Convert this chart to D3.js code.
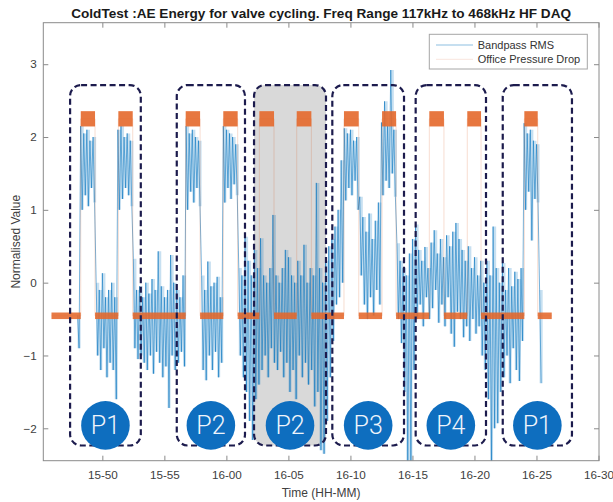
<!DOCTYPE html>
<html lang="en">
  <head>
    <meta charset="utf-8" />
    <title>ColdTest AE Energy</title>
    <script src="https://d3js.org/d3.v7.min.js"></script>
    <style>
      body { margin: 0; background: #fff; }
      svg { font-family: "Liberation Sans", Arial, sans-serif; }
    </style>
  </head>
  <body>
    <script type="text/javascript">
      // all times are minutes after 15:00
      const tickMinutes = [50, 55, 60, 65, 70, 75, 80, 85, 90];
      const tickLabels = ["15-50", "15-55", "16-00", "16-05", "16-10", "16-15", "16-20", "16-25", "16-30"];
      const yTicks = [-2, -1, 0, 1, 2, 3];

      const rmsStart = 48.0;
      const rmsBin = 0.25;
      const rmsHigh = [
        -0.45, 2.15, 2.05, 2.1, 1.95, 2.0, 0.0, -0.1, 0.13, -0.2,
        -0.1, 0.0, -0.2, 2.1, 2.15, 2.0, 2.05, 1.95, 0.33, -0.1,
        -0.05, -0.2, 0.0, -0.15, 0.05, -0.1, 0.43, -0.05, -0.2, -0.1,
        0.38, 0.0, -0.1, -0.2, 0.1, 2.15, 2.05, 2.1, 2.0, 1.95,
        0.1, -0.1, 0.29, -0.05, 0.0, 0.08, -0.2, 2.15, 2.1, 2.05,
        2.0, 1.9, 0.2, 0.1, 0.63, 0.3, 0.1, 0.45, 0.2, 0.61,
        0.1, 0.0, 0.2, 0.93, 0.1, 0.0, 0.2, 0.45, 0.35, 0.1,
        0.0, 0.3, 0.1, 0.52, 0.0, 0.2, 0.1, 1.37, 0.2, 0.0,
        0.3, 0.5, 0.6, 0.77, 1.0, 1.68, 2.12, 2.05, 2.1, 1.95,
        2.0, 1.18, 0.9, 0.7, 0.95, 0.6, 0.85, 1.1, 2.2, 2.49,
        2.15, 2.92, 2.1, 0.54, 0.3, 0.2, 0.1, 0.4, 0.6, 0.8,
        0.45, 0.3, 0.49, 0.2, 0.55, 0.72, 0.4, 0.6, 0.35, 0.65,
        0.5, 0.7, 0.82, 0.6, 0.45, 0.3, 0.5, 0.2, 0.35, 0.1,
        0.3, 0.0, 0.3, 0.1, 0.77, 0.2, 0.0, 0.27, -0.1, 0.2,
        -0.05, 0.15, 0.05, 0.2, 2.19, 2.05, 2.1, 1.95, 1.9, -0.1,
      ];
      const rmsLow = [
        -0.9, 1.0, 1.2, 1.05, 1.3, 1.1, -1.0, -1.2, -0.9, -1.3,
        -1.1, -1.2, -1.6, 1.0, 1.15, 1.3, 1.2, 1.05, -0.9, -1.05,
        -1.0, -1.1, -1.2, -1.0, -1.25, -0.95, -1.1, -1.3, -1.15, -1.72,
        -1.0, -1.2, -1.1, -0.95, -1.15, 1.0, 1.25, 1.1, 1.3, 1.05,
        -1.2, -1.34, -1.0, -1.2, -0.95, -1.3, -1.1, 1.1, 1.3, 1.15,
        1.35, 1.2, -1.0, -1.3, -1.5, -1.9, -2.16, -1.6, -1.4, -1.2,
        -1.0, -1.3, -0.9, -1.1, -1.2, -0.95, -1.3, -1.1, -1.5, -1.2,
        -1.6, -1.0, -1.3, -1.1, -1.4, -1.2, -1.7, -1.5, -2.3, -2.35,
        -1.9, -1.3, -0.8, -0.3, -0.2, 0.0, 1.13, 1.3, 1.2, 1.4,
        1.0, 0.1, -0.3, -0.5, -0.2, -0.45, -0.1, -0.3, 1.2, 1.4,
        1.3, 1.5, 1.18, -0.5, -0.83, -1.5, -2.5, -2.5, -1.2, -0.5,
        -0.3, -0.6, -0.2, -0.5, -0.35, -0.1, -0.55, -0.3, -0.6, -0.2,
        -0.7, -0.88, -0.4, -0.5, -0.75, -0.6, -0.8, -0.5, -0.7, -0.6,
        -1.0, -1.2, -1.6, -2.5, -2.0, -1.93, -1.5, -1.3, -1.0, -1.38,
        -0.9, -1.2, -1.35, -0.8, 1.0, 1.25, 0.58, 1.15, 1.1, -1.38,
      ];

      // Office Pressure Drop: square pulses between two levels
      const pressureFrom = 45.9;
      const pressureTo = 86.23;
      const pressureLow = -0.455;
      const pressureHigh = 2.25;
      const pulseOn = [48.26, 51.29, 56.72, 59.75, 62.66, 65.67, 69.48, 72.55, 76.36, 79.42, 84.02];
      const pulseOff = [49.41, 52.45, 57.88, 60.91, 63.84, 66.85, 70.67, 73.68, 77.54, 80.53, 85.1];

      // annotation boxes
      const boxLabels = ["P1", "P2", "P2", "P3", "P4", "P1"];
      const boxFrom = [47.4, 56.0, 62.23, 68.54, 75.26, 82.28];
      const boxTo = [53.1, 61.5, 68.03, 74.32, 80.93, 87.86];
      const boxShaded = [false, false, true, false, false, false];
      const boxTop = 2.714;
      const boxBottom = -2.236;
      const badgeLevel = -1.96;

      const w = 613;
      const h = 502;
      const mLeft = 43.3, mRight = 599, mTop = 22.7, mBottom = 460.7;

      const x = d3.scaleLinear().domain([45.24, 90.04]).range([mLeft, mRight]);
      const y = d3.scaleLinear().domain([-2.445, 3.57]).range([mBottom, mTop]);

      const svg = d3.select("body").append("svg").attr("width", w).attr("height", h);

      svg.append("clipPath").attr("id", "plotclip")
        .append("rect")
        .attr("x", mLeft).attr("y", mTop)
        .attr("width", mRight - mLeft).attr("height", mBottom - mTop);

      const plot = svg.append("g").attr("clip-path", "url(#plotclip)");

      // grey shading behind the data
      const shaded = boxLabels.map((d, i) => i).filter((i) => boxShaded[i]);
      plot.selectAll("rect.shade")
        .data(shaded)
        .enter()
        .append("rect")
        .attr("class", "shade")
        .attr("x", (i) => x(boxFrom[i]))
        .attr("y", y(boxTop))
        .attr("width", (i) => x(boxTo[i]) - x(boxFrom[i]))
        .attr("height", y(boxBottom) - y(boxTop))
        .attr("rx", 11)
        .attr("fill", "#d9d9d9");

      // faint envelope of each bin, then a zig-zag through high and low
      let rmsBins = [];
      let rmsPoints = [];
      rmsHigh.forEach((d, i) => {
        const t = rmsStart + i * rmsBin;
        rmsBins.push([t, rmsLow[i], d], [t + rmsBin, rmsLow[i], d]);
        rmsPoints.push([t, d], [t + rmsBin / 2, rmsLow[i]]);
      });

      const area = d3.area().x((d) => x(d[0])).y0((d) => y(d[1])).y1((d) => y(d[2]));
      const line = d3.line().x((d) => x(d[0])).y((d) => y(d[1]));

      plot.append("path")
        .datum(rmsBins)
        .attr("d", area)
        .attr("fill", "#0072bd")
        .attr("fill-opacity", 0.22);

      plot.append("path")
        .datum(rmsPoints)
        .attr("d", line)
        .attr("fill", "none")
        .attr("stroke", "#0072bd")
        .attr("stroke-width", 0.9)
        .attr("stroke-opacity", 0.6);

      // pressure step trace
      let steps = [[pressureFrom, pressureLow]];
      pulseOn.forEach((d, i) => {
        steps.push([d, pressureLow], [d, pressureHigh], [pulseOff[i], pressureHigh], [pulseOff[i], pressureLow]);
      });
      steps.push([pressureTo, pressureLow]);

      plot.append("path")
        .datum(steps)
        .attr("d", line)
        .attr("fill", "none")
        .attr("stroke", "#d95319")
        .attr("stroke-width", 1)
        .attr("stroke-opacity", 0.2);

      // noisy plateaus drawn as bands
      let lows = [[pressureFrom, pulseOn[0]]];
      pulseOn.forEach((d, i) => {
        lows.push([pulseOff[i], i + 1 < pulseOn.length ? pulseOn[i + 1] : pressureTo]);
      });

      plot.selectAll("rect.low")
        .data(lows)
        .enter()
        .append("rect")
        .attr("class", "low")
        .attr("x", (d) => x(d[0]))
        .attr("width", (d) => x(d[1]) - x(d[0]))
        .attr("y", y(pressureLow + 0.045))
        .attr("height", y(pressureLow - 0.045) - y(pressureLow + 0.045))
        .attr("fill", "#e4682b")
        .attr("fill-opacity", 0.88);

      plot.selectAll("rect.high")
        .data(pulseOn)
        .enter()
        .append("rect")
        .attr("class", "high")
        .attr("x", (d) => x(d))
        .attr("width", (d, i) => x(pulseOff[i]) - x(d))
        .attr("y", y(pressureHigh + 0.105))
        .attr("height", y(pressureHigh - 0.105) - y(pressureHigh + 0.105))
        .attr("fill", "#e4682b")
        .attr("fill-opacity", 0.9);

      // dashed boxes with badges
      const boxes = svg.selectAll("g.box")
        .data(boxLabels)
        .enter()
        .append("g")
        .attr("class", "box");

      boxes.append("rect")
        .attr("x", (d, i) => x(boxFrom[i]))
        .attr("y", y(boxTop))
        .attr("width", (d, i) => x(boxTo[i]) - x(boxFrom[i]))
        .attr("height", y(boxBottom) - y(boxTop))
        .attr("rx", 11)
        .attr("fill", "none")
        .attr("stroke", "#1c1b4d")
        .attr("stroke-width", 2.2)
        .attr("stroke-dasharray", "6,3.5");

      boxes.append("circle")
        .attr("cx", (d, i) => x((boxFrom[i] + boxTo[i]) / 2))
        .attr("cy", y(badgeLevel))
        .attr("r", 24.3)
        .attr("fill", "#0e6ebf");

      boxes.append("text")
        .text((d) => d)
        .attr("x", (d, i) => x((boxFrom[i] + boxTo[i]) / 2))
        .attr("y", y(badgeLevel) + 9)
        .attr("text-anchor", "middle")
        .attr("font-family", "Roboto, 'Open Sans', sans-serif")
        .attr("font-weight", 300)
        .attr("font-size", "25px")
        .attr("fill", "#eef4fb");

      // axes, ticks pointing inwards on all four sides
      const axisColor = "#8a8a8a";
      const xAxis = d3.axisBottom(x).tickValues(tickMinutes)
        .tickFormat((d, i) => tickLabels[i]).tickSizeInner(-5).tickSizeOuter(0).tickPadding(10);
      const xTop = d3.axisTop(x).tickValues(tickMinutes).tickFormat("").tickSizeInner(-5).tickSizeOuter(0);
      const yAxis = d3.axisLeft(y).tickValues(yTicks).tickFormat(d3.format("d"))
        .tickSizeInner(-5).tickSizeOuter(0).tickPadding(6.5);
      const yRight = d3.axisRight(y).tickValues(yTicks).tickFormat("").tickSizeInner(-5).tickSizeOuter(0);

      function styleAxis(g) {
        g.select(".domain").remove();
        g.selectAll("line").attr("stroke", axisColor);
        g.selectAll("text").attr("fill", "#404040").attr("font-size", "11.7px")
          .attr("font-family", "'Liberation Sans', Arial, sans-serif");
      }

      svg.append("g").attr("transform", "translate(0," + mBottom + ")").call(xAxis).call(styleAxis);
      svg.append("g").attr("transform", "translate(0," + mTop + ")").call(xTop).call(styleAxis);
      svg.append("g").attr("transform", "translate(" + mLeft + ",0)").call(yAxis).call(styleAxis);
      svg.append("g").attr("transform", "translate(" + mRight + ",0)").call(yRight).call(styleAxis);

      svg.append("rect")
        .attr("x", mLeft).attr("y", mTop)
        .attr("width", mRight - mLeft).attr("height", mBottom - mTop)
        .attr("fill", "none")
        .attr("stroke", axisColor)
        .attr("stroke-width", 1);

      // titles
      svg.append("text")
        .text("ColdTest :AE Energy for valve cycling. Freq Range 117kHz to 468kHz HF DAQ")
        .attr("x", (mLeft + mRight) / 2)
        .attr("y", 18)
        .attr("text-anchor", "middle")
        .attr("font-weight", "bold")
        .attr("font-size", "13.6px")
        .attr("fill", "#1a1a1a");

      svg.append("text")
        .text("Time (HH-MM)")
        .attr("x", (mLeft + mRight) / 2)
        .attr("y", 497)
        .attr("text-anchor", "middle")
        .attr("font-size", "12px")
        .attr("fill", "#404040");

      svg.append("text")
        .text("Normalised Value")
        .attr("transform", "translate(20," + (mTop + mBottom) / 2 + ") rotate(-90)")
        .attr("text-anchor", "middle")
        .attr("font-size", "12px")
        .attr("fill", "#404040");

      // legend
      const legend = svg.append("g");
      legend.append("rect")
        .attr("x", 429.3).attr("y", 34.3)
        .attr("width", 158).attr("height", 34.7)
        .attr("fill", "#fff")
        .attr("stroke", "#a6a6a6");

      const legendItems = [
        { name: "Bandpass RMS", color: "#0072bd", opacity: 0.45 },
        { name: "Office Pressure Drop", color: "#d95319", opacity: 0.15 },
      ];

      legendItems.forEach((d, i) => {
        const ly = 45 + i * 14.3;
        legend.append("line")
          .attr("x1", 436).attr("x2", 473)
          .attr("y1", ly).attr("y2", ly)
          .attr("stroke", d.color)
          .attr("stroke-opacity", d.opacity);
        legend.append("text")
          .text(d.name)
          .attr("x", 477.7)
          .attr("y", ly + 4)
          .attr("font-size", "11px")
          .attr("fill", "#333");
      });
    </script>
  </body>
</html>
